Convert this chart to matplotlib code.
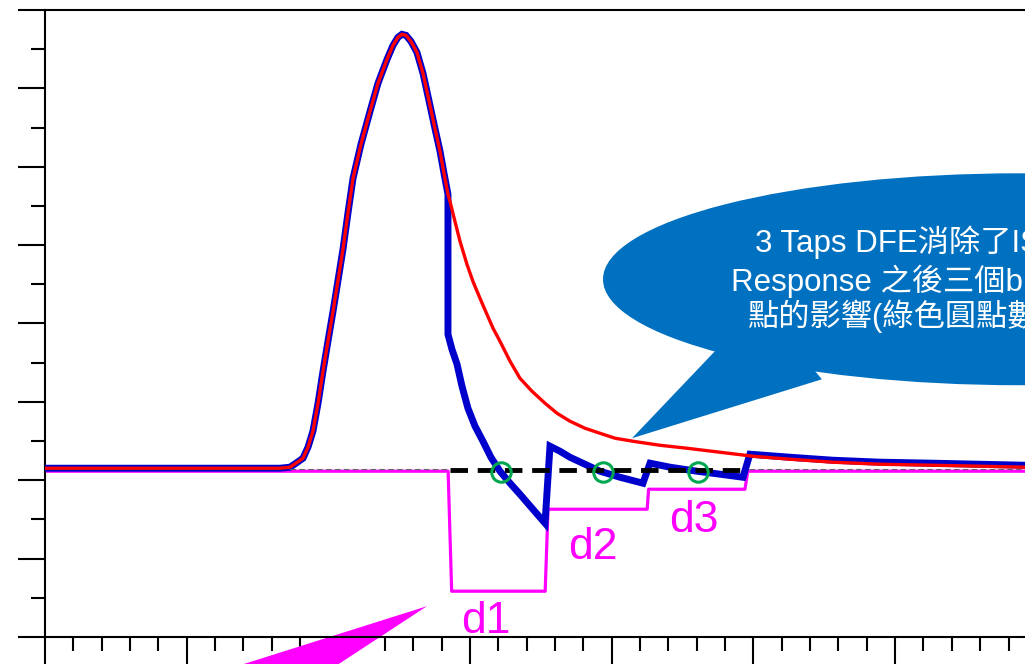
import matplotlib
matplotlib.use('Agg')
import matplotlib.pyplot as plt
from matplotlib.patches import Ellipse, Polygon
from matplotlib.ticker import MultipleLocator

# shared rising edge / main cursor (identical for both responses)
rise_t = [0.0, 1.658, 1.729, 1.771, 1.821, 1.856, 1.891, 1.927, 1.962, 1.997, 2.033, 2.068,
          2.103, 2.138, 2.174, 2.230, 2.294, 2.350, 2.414, 2.456, 2.491, 2.519, 2.548, 2.583,
          2.625, 2.668, 2.717, 2.752, 2.788, 2.816, 2.844]
rise_v = [0.0153, 0.0153, 0.0166, 0.0217, 0.0281, 0.0421, 0.0625, 0.0982, 0.1390, 0.1773, 0.2156, 0.2551,
          0.2946, 0.3406, 0.3852, 0.4286, 0.4707, 0.5064, 0.5370, 0.5548, 0.5651, 0.5689, 0.5676, 0.5599,
          0.5459, 0.5191, 0.4783, 0.4490, 0.4196, 0.3916, 0.3648]

# tail without DFE (red)
red_tail_t = [2.858, 2.893, 2.929, 2.978, 3.020, 3.070, 3.119, 3.162, 3.211, 3.282, 3.352, 3.437,
              3.529, 3.613, 3.705, 3.811, 3.917, 4.023, 4.150, 4.340, 4.531, 4.764, 4.997, 5.258,
              5.561, 5.893, 6.267, 6.598, 6.916, 7.2]
red_tail_v = [0.3559, 0.3304, 0.3048, 0.2755, 0.2538, 0.2321, 0.2117, 0.1939, 0.1773, 0.1518, 0.1301, 0.1135,
              0.0982, 0.0855, 0.0753, 0.0663, 0.0599, 0.0536, 0.0497, 0.0446, 0.0408, 0.0357, 0.0306, 0.0268,
              0.0230, 0.0204, 0.0191, 0.0179, 0.0166, 0.0162]

# tail after 3-tap DFE (blue)
blue_tail_t = [2.844, 2.872, 2.908, 2.943, 2.985, 3.035, 3.091, 3.147, 3.211, 3.282, 3.352, 3.437,
               3.529, 3.564, 3.634, 3.705, 3.811, 3.917, 4.058, 4.220, 4.270, 4.411, 4.601, 4.764,
               4.926, 4.975, 5.258, 5.561, 5.893, 6.267, 6.916, 7.2]
blue_tail_v = [0.1862, 0.1671, 0.1480, 0.1199, 0.0918, 0.0689, 0.0497, 0.0293, 0.0115, -0.0038, -0.0179, -0.0357,
               -0.0548, 0.0434, 0.0370, 0.0293, 0.0204, 0.0115, 0.0038, -0.0038, 0.0217, 0.0166, 0.0115, 0.0077,
               0.0038, 0.0332, 0.0293, 0.0255, 0.0230, 0.0217, 0.0191, 0.0188]

# DFE tap correction (magenta)
tap_t = [0.0, 2.845, 2.87, 3.53, 3.55, 4.25, 4.26, 4.94, 4.96, 7.2]
tap_v = [0.0115, 0.0115, -0.1416, -0.1416, -0.037, -0.037, -0.0115, -0.0115, 0.0115, 0.0115]

# zero level and sampled post-cursors
zero_t = [2.86, 4.97]
zero_v = [0.0128, 0.0128]
ref_t = [[1.73, 2.86], [4.97, 7.2]]
ref_v = 0.0140
cursor_t = [3.218, 3.937, 4.608]
cursor_v = [0.0102, 0.0102, 0.0102]

tap_labels = ['d1', 'd2', 'd3']
tap_label_t = [3.11, 3.87, 4.580]
tap_label_v = [-0.1950, -0.1000, -0.0663]

note_lines = ['3 Taps DFE消除了ISI Pulse', 'Response 之後三個bit時間', '點的影響(綠色圓點數值為0)']
note_t = [5.011, 4.841, 4.961]
note_v = [0.2908, 0.2411, 0.1965]

fig = plt.figure(figsize=(10.25, 6.64), dpi=100)
ax = fig.add_axes([0.0439, 0.0407, 0.9953, 0.9443])
ax.set_xlim(0, 7.2)
ax.set_ylim(-0.2, 0.6)

# callout bubble
ax.add_patch(Ellipse((6.881, 0.2564), 5.886, 0.2704, facecolor='#0070C0', edgecolor='none', zorder=1))
ax.add_patch(Polygon([(4.143, 0.0536), (4.73, 0.165), (5.2, 0.19), (5.483, 0.1288)],
                     closed=True, facecolor='#0070C0', edgecolor='none', zorder=1))
for s, tx, ty in zip(note_lines, note_t, note_v):
    ax.text(tx, ty, s, color='white', fontsize=22.5, ha='left', va='baseline',
            family=['Liberation Sans', 'Noto Sans CJK TC'], zorder=6, clip_on=False)

# magenta arrow coming from below
ax.add_patch(Polygon([(2.696, -0.1607), (0.572, -0.2819), (1.673, -0.2819)], closed=True,
                     facecolor='#FF00FF', edgecolor='none', clip_on=False, zorder=2))

ax.plot(tap_t, tap_v, color='#FF00FF', lw=2.3, zorder=2)
ax.plot(rise_t + blue_tail_t, rise_v + blue_tail_v, color='#0000CC', lw=5,
        solid_joinstyle='miter', zorder=3)
ax.plot(rise_t + red_tail_t, rise_v + red_tail_v, color='#FF0000', lw=2.4, zorder=4)
ax.plot(zero_t, zero_v, color='black', lw=3.5, dashes=(3.6, 2), zorder=3.5)
for seg in ref_t:
    ax.plot(seg, [ref_v, ref_v], color='#666666', lw=0.8, dashes=(5, 3), zorder=4.5)
ax.plot(cursor_t, cursor_v, 'o', ms=14, mfc='none', mec='#00A650', mew=2.2, zorder=5)

for s, tx, ty in zip(tap_labels, tap_label_t, tap_label_v):
    ax.text(tx, ty, s, color='#FF00FF', fontsize=32, ha='center', va='baseline',
            family='Liberation Sans', zorder=6, clip_on=False)

ax.xaxis.set_major_locator(MultipleLocator(1.0))
ax.xaxis.set_minor_locator(MultipleLocator(0.2))
ax.yaxis.set_major_locator(MultipleLocator(0.1))
ax.yaxis.set_minor_locator(MultipleLocator(0.05))
ax.tick_params(which='major', direction='out', length=19.5, width=1.5,
               labelleft=False, labelbottom=False)
ax.tick_params(which='minor', direction='out', length=10, width=1.5)
for sp in ax.spines.values():
    sp.set_linewidth(1.5)

fig.savefig('out.png', dpi=100)
